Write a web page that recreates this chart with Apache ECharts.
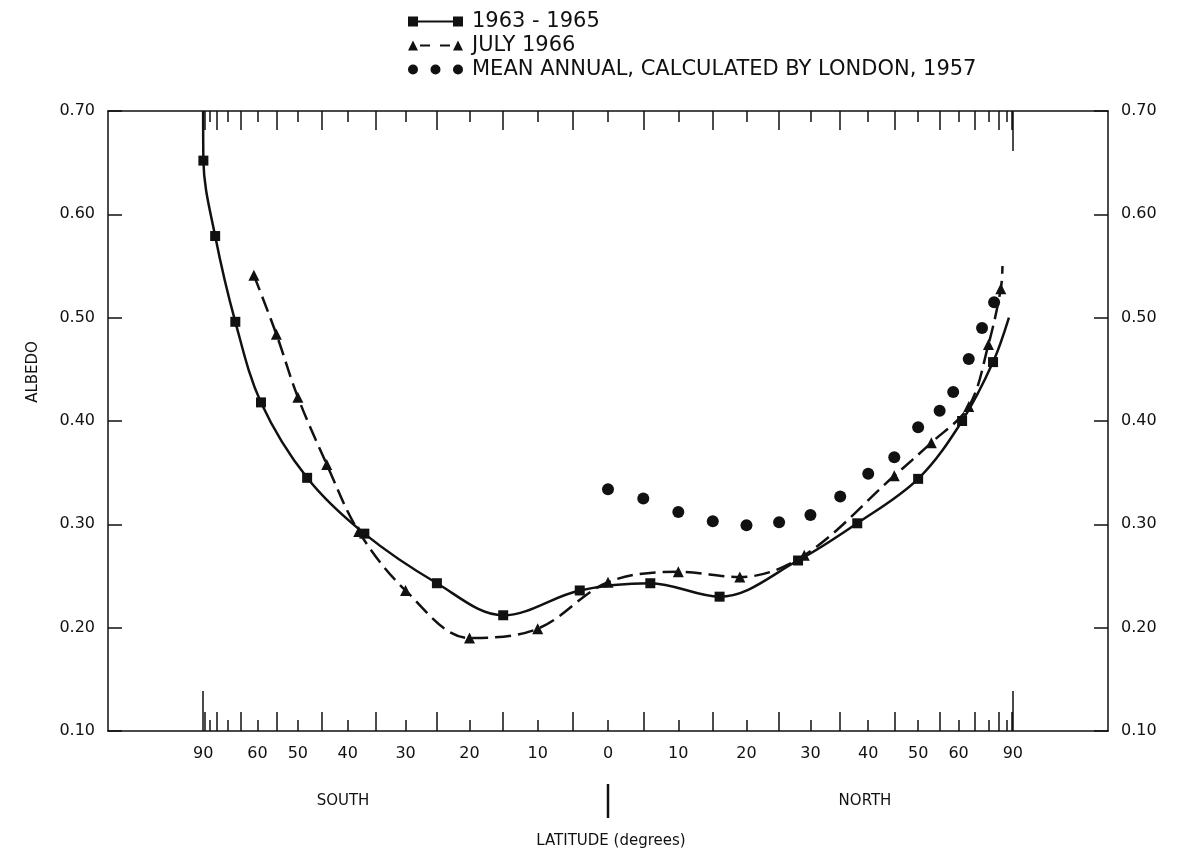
<!DOCTYPE html>
<html>
<head>
<meta charset="utf-8">
<title>Albedo by latitude</title>
<script src="https://cdn.jsdelivr.net/npm/echarts@6.0.0/dist/echarts.min.js"></script>
<style>
  html, body { margin: 0; padding: 0; background: #fff; }
  #chart { width: 1187px; height: 856px; }
</style>
</head>
<body>
<div id="chart"></div>
<script>
// latitude in degrees (south negative), albedo as fraction
const lat6365 = [-88, -76, -67, -59, -48, -37, -25, -15, -4, 6, 16, 28, 38, 50, 61, 72];
const alb6365 = [0.652, 0.579, 0.496, 0.418, 0.345, 0.291, 0.243, 0.212, 0.236, 0.243, 0.230, 0.265, 0.301, 0.344, 0.400, 0.457];
// where the drawn curve runs on past the first / last marker
const ends6365 = [[-90, 0.70], [82, 0.50]];

const lat1966 = [-61, -55, -50, -44, -38, -30, -20, -10, 0, 10, 19, 29, 45, 53, 63, 70, 76];
const alb1966 = [0.541, 0.484, 0.423, 0.358, 0.293, 0.236, 0.190, 0.199, 0.244, 0.254, 0.249, 0.270, 0.347, 0.379, 0.414, 0.474, 0.528];
const ends1966 = [[77, 0.55]];

const latLondon = [0, 5, 10, 15, 20, 25, 30, 35, 40, 45, 50, 55, 58.5, 63, 67.5, 72.5];
const albLondon = [0.334, 0.325, 0.312, 0.303, 0.299, 0.302, 0.309, 0.327, 0.349, 0.365, 0.394, 0.410, 0.428, 0.460, 0.490, 0.515];

// axis ticks (degrees)
const xLabelLats = [-90, -60, -50, -40, -30, -20, -10, 0, 10, 20, 30, 40, 50, 60, 90];
const tickTens = [-80, -70, -60, -50, -40, -30, -20, -10, 0, 10, 20, 30, 40, 50, 60, 70, 80];
const tickFives = [-85, -75, -65, -55, -45, -35, -25, -15, -5, 5, 15, 25, 35, 45, 55, 65, 75, 85];
const tickPoles = [-90, 90];

const ink = '#111';
const font = 'DejaVu Sans';
const XR = 1.235; // sin(lat) range shown either side of the equator

// x axis is area-weighted: position ~ sin(latitude)
const sx = lat => Math.sin(lat * Math.PI / 180);

function trace(lats, albs, ends) {
  return lats.map((l, i) => [sx(l), albs[i]])
    .concat(ends.map(e => [sx(e[0]), e[1]]))
    .sort((a, b) => a[0] - b[0]);
}
function marks(lats, albs) {
  return lats.map((l, i) => [sx(l), albs[i]]);
}

function xAxisDef(position, ticks, len, showLine, showLabels) {
  return {
    type: 'value',
    position: position,
    min: -XR,
    max: XR,
    axisLine: { show: showLine, onZero: false, lineStyle: { color: ink, width: 1.5 } },
    axisTick: {
      show: true,
      inside: true,
      length: len,
      customValues: ticks.map(sx),
      lineStyle: { color: ink, width: 1.5 }
    },
    axisLabel: showLabels ? {
      show: true,
      customValues: xLabelLats.map(sx),
      formatter: v => String(Math.round(Math.abs(Math.asin(Math.max(-1, Math.min(1, v))) * 180 / Math.PI))),
      margin: 15,
      fontFamily: font,
      fontSize: 16,
      color: ink
    } : { show: false },
    splitLine: { show: false }
  };
}

function yAxisDef(position) {
  return {
    type: 'value',
    position: position,
    min: 0.1,
    max: 0.7,
    interval: 0.1,
    axisLine: { show: true, onZero: false, lineStyle: { color: ink, width: 1.5 } },
    axisTick: { show: true, inside: true, length: 14, lineStyle: { color: ink, width: 1.5 } },
    axisLabel: {
      formatter: v => v.toFixed(2),
      margin: 13,
      fontFamily: font,
      fontSize: 16,
      color: ink
    },
    splitLine: { show: false }
  };
}

const chart = echarts.init(document.getElementById('chart'));
chart.setOption({
  backgroundColor: '#fff',
  animation: false,
  textStyle: { fontFamily: font, color: ink },
  grid: { left: 108, right: 79, top: 111, bottom: 125, containLabel: false, outerBoundsMode: 'none' },
  legend: {
    orient: 'vertical',
    left: 403,
    top: 6,
    itemWidth: 55,
    itemHeight: 10,
    itemGap: 3,
    selectedMode: false,
    itemStyle: { borderWidth: 0 },
    textStyle: { fontFamily: font, fontSize: 21, lineHeight: 20, color: ink, padding: [0, 0, 0, 4] },
    data: [
      { name: '1963 - 1965', icon: 'path://M0,0H10V10H0Z M10,4H45V6H10Z M45,0H55V10H45Z' },
      { name: 'JULY 1966', icon: 'path://M0,10L5,0L10,10Z M12,4H22V6H12Z M32,4H42V6H32Z M45,10L50,0L55,10Z' },
      { name: 'MEAN ANNUAL, CALCULATED BY LONDON, 1957',
        icon: 'path://M0,5A5,5,0,1,1,10,5A5,5,0,1,1,0,5Z M22.5,5A5,5,0,1,1,32.5,5A5,5,0,1,1,22.5,5Z M45,5A5,5,0,1,1,55,5A5,5,0,1,1,45,5Z' }
    ]
  },
  xAxis: [
    xAxisDef('bottom', tickTens, 11, true, true),
    xAxisDef('bottom', tickFives, 19, false, false),
    xAxisDef('bottom', tickPoles, 40, false, false),
    xAxisDef('top', tickTens, 11, true, false),
    xAxisDef('top', tickFives, 19, false, false),
    xAxisDef('top', tickPoles, 40, false, false)
  ],
  yAxis: [yAxisDef('left'), yAxisDef('right')],
  graphic: [
    { type: 'text', x: 33, y: 372, rotation: Math.PI / 2,
      style: { text: 'ALBEDO', font: '15px "DejaVu Sans"', fill: ink, align: 'center', verticalAlign: 'middle' } },
    { type: 'text', x: 343, y: 801, style: { text: 'SOUTH', font: '15px "DejaVu Sans"', fill: ink, align: 'center', verticalAlign: 'middle' } },
    { type: 'text', x: 865, y: 801, style: { text: 'NORTH', font: '15px "DejaVu Sans"', fill: ink, align: 'center', verticalAlign: 'middle' } },
    { type: 'line', shape: { x1: 608, y1: 784, x2: 608, y2: 818 }, style: { stroke: ink, lineWidth: 2.5 } },
    { type: 'text', x: 611, y: 841, style: { text: 'LATITUDE (degrees)', font: '15px "DejaVu Sans"', fill: ink, align: 'center', verticalAlign: 'middle' } }
  ],
  series: [
    {
      name: '1963 - 1965', type: 'line', smooth: 0.35, symbol: 'none',
      data: trace(lat6365, alb6365, ends6365),
      lineStyle: { color: ink, width: 2.5 }, itemStyle: { color: ink }, z: 2
    },
    {
      name: '1963 - 1965', type: 'scatter', symbol: 'rect', symbolSize: 10,
      data: marks(lat6365, alb6365), itemStyle: { color: ink, opacity: 1 }, z: 3
    },
    {
      name: 'JULY 1966', type: 'line', smooth: 0.35, symbol: 'none',
      data: trace(lat1966, alb1966, ends1966),
      lineStyle: { color: ink, width: 2.5, type: [16, 7] }, itemStyle: { color: ink }, z: 2
    },
    {
      name: 'JULY 1966', type: 'scatter', symbol: 'triangle', symbolSize: 11,
      data: marks(lat1966, alb1966), itemStyle: { color: ink, opacity: 1 }, z: 3
    },
    {
      name: 'MEAN ANNUAL, CALCULATED BY LONDON, 1957', type: 'scatter', symbol: 'circle', symbolSize: 12,
      data: marks(latLondon, albLondon), itemStyle: { color: ink, opacity: 1 }, z: 3
    }
  ]
});
</script>
</body>
</html>
